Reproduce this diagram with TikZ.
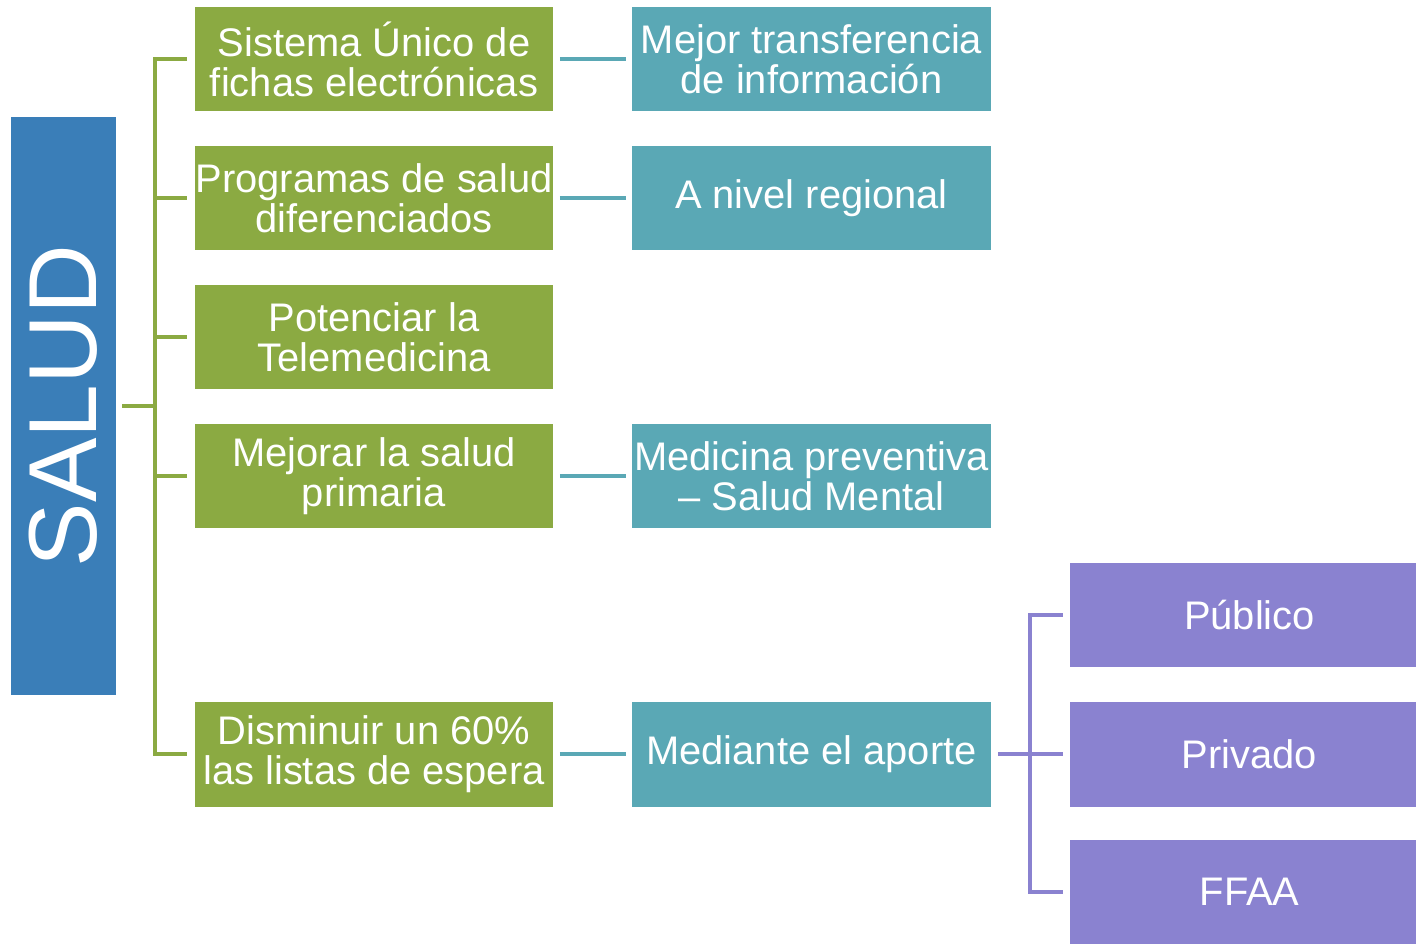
\documentclass[tikz,border=0pt]{standalone}
\usepackage{fontspec}
\setmainfont{Liberation Sans}
\definecolor{saludblue}{HTML}{3A7EB8}
\definecolor{leafgreen}{HTML}{8BAA42}
\definecolor{seateal}{HTML}{5AA8B5}
\definecolor{lavender}{HTML}{8A82D0}
\tikzset{
  box/.style={minimum width=7.18cm, minimum height=2.1cm, inner sep=0pt, text=white,
    align=center, font=\fontsize{22.7}{22.8}\selectfont},
  gbox/.style={box, fill=leafgreen},
  tbox/.style={box, fill=seateal},
  pbox/.style={box, fill=lavender},
  gline/.style={line width=2.8pt, leafgreen},
  tline/.style={line width=2.8pt, seateal},
  pline/.style={line width=2.8pt, lavender}
}
\begin{document}
\begin{tikzpicture}[x=0.02cm, y=-0.02cm]
\useasboundingbox (0,0) rectangle (1416,943);
% main box
\node[fill=saludblue, minimum width=2.1cm, minimum height=11.56cm, inner sep=0pt] (salud) at (63.5,406)
  {\rotatebox{90}{\color{white}\fontsize{55}{56}\selectfont SALUD}};
% first column
\node[gbox] (g1) at (374,59) {Sistema Único de\\fichas electrónicas};
\node[gbox] (g2) at (374,198) {Programas de salud\\diferenciados};
\node[gbox] (g3) at (374,337) {Potenciar la\\Telemedicina};
\node[gbox] (g4) at (374,476) {Mejorar la salud\\primaria};
\node[gbox] (g5) at (374,754) {Disminuir un 60\%\\las listas de espera};
% second column
\node[tbox] (t1) at (811.5,59) {Mejor transferencia\\de información};
\node[tbox] (t2) at (811.5,198) {A nivel regional};
\node[tbox] (t4) at (811.5,476) {Medicina preventiva\\– Salud Mental};
\node[tbox] (t5) at (811.5,754) {Mediante el aporte};
% third column, cut by the page edge
\node[pbox] (p1) at (1249.5,615) {Público};
\node[pbox] (p2) at (1249.5,754) {Privado};
\node[pbox] (p3) at (1249.5,892) {FFAA};
% green bracket
\coordinate (gb) at (155,406);
\draw[gline] ([xshift=0.12cm]salud.east) -- (gb);
\draw[gline] ([xshift=-0.14cm]g1.west) -| (gb) |- ([xshift=-0.14cm]g5.west);
\foreach \n in {g2,g3,g4}
  \draw[gline] (gb |- \n.west) -- ([xshift=-0.14cm]\n.west);
% teal links
\foreach \a/\b in {g1/t1,g2/t2,g4/t4,g5/t5}
  \draw[tline] ([xshift=0.12cm]\a.east) -- ([xshift=-0.12cm]\b.west);
% purple bracket
\coordinate (pb) at (1030,754);
\draw[pline] ([xshift=0.14cm]t5.east) -- ([xshift=-0.14cm]p2.west);
\draw[pline] ([xshift=-0.14cm]p1.west) -| (pb) |- ([xshift=-0.14cm]p3.west);
\end{tikzpicture}
\end{document}
